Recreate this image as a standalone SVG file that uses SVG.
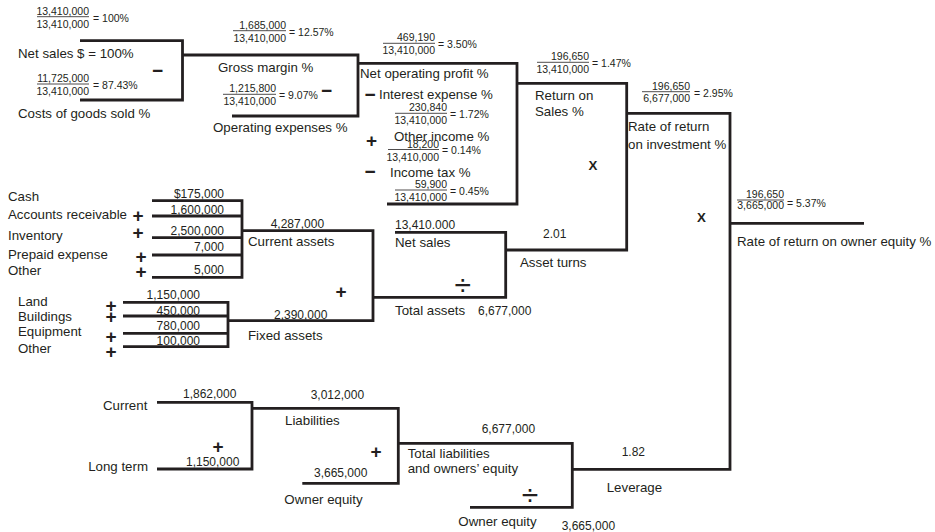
<svg xmlns="http://www.w3.org/2000/svg" width="935" height="532" viewBox="0 0 935 532">
<style>
text{font-family:"Liberation Sans",Arial,sans-serif;fill:#231f20}
.lb{font-size:13.3px}
.nm{font-size:12px}
.fr{font-size:10.5px}
.fn{font-size:10.5px;text-anchor:end}
.op{font-size:19px;font-weight:bold;text-anchor:middle}
.ox{font-size:13.3px;font-weight:bold;text-anchor:middle}
.dv{font-size:30px;text-anchor:middle}
.bar{stroke:#231f20;stroke-width:0.8;fill:none}
.cn path{stroke:#231f20;stroke-width:2.8;fill:none;stroke-linejoin:miter}
</style>
<rect width="935" height="532" fill="#ffffff"/>
<g id="connectors" class="cn">
<path d="M80 40.7 H182.5 V100 H80"/>
<path d="M182.5 55 H358 V116 H232"/>
<path d="M358 63.3 H517 V204 H387"/>
<path d="M517 83.3 H626.7 V250 H505.7"/>
<path d="M626.7 113.3 H730 V469.3 H572.3"/>
<path d="M730 223.3 H864"/>
<path d="M152 200.7 H242 V277.3 H152"/>
<path d="M152 216 H242"/>
<path d="M152 237.7 H242"/>
<path d="M152 255 H242"/>
<path d="M242 230.7 H373 V320.7 H228"/>
<path d="M123 302.3 H228 V346.7 H123"/>
<path d="M123 316 H228"/>
<path d="M123 333.3 H228"/>
<path d="M395 232.3 H505.7 V297.3 H373"/>
<path d="M157 402.3 H252 V469 H157"/>
<path d="M252 408.3 H398.3 V483.3 H302.3"/>
<path d="M398.3 443.3 H572.3 V507.3 H470"/>
</g>
<g id="operators">
<text class="op" x="157.5" y="76.5">−</text>
<text class="op" x="326.5" y="96.5">−</text>
<text class="op" x="370" y="100.8">−</text>
<text class="op" x="371.5" y="146.5">+</text>
<text class="op" x="370" y="178.2">−</text>
<text class="ox" x="593" y="169.8">X</text>
<text class="ox" x="701.5" y="221.5">X</text>
<text class="op" x="138" y="221.5">+</text>
<text class="op" x="138" y="239.2">+</text>
<text class="op" x="141" y="263.2">+</text>
<text class="op" x="141" y="278.2">+</text>
<text class="op" x="341" y="298.2">+</text>
<text class="op" x="111" y="311.5">+</text>
<text class="op" x="111" y="323.2">+</text>
<text class="op" x="111" y="343.2">+</text>
<text class="op" x="111" y="358.2">+</text>
<text class="op" x="218" y="452.5">+</text>
<text class="op" x="376" y="458.2">+</text>
<text class="dv" x="462.7" y="294.5">÷</text>
<text class="dv" x="530" y="505">÷</text>
</g>
<g id="net-sales">
<text class="fn" x="89" y="14.7">13,410,000</text>
<line class="bar" x1="37" y1="16.7" x2="89" y2="16.7"/>
<text class="fn" x="89" y="27.7">13,410,000</text>
<text class="fr" x="93" y="21.5">= 100%</text>
<text class="lb" x="18" y="58">Net sales $ = 100%</text>
</g>
<g id="cogs">
<text class="fn" x="89" y="82">11,725,000</text>
<line class="bar" x1="37" y1="84" x2="89" y2="84"/>
<text class="fn" x="89" y="95">13,410,000</text>
<text class="fr" x="93" y="88.8">= 87.43%</text>
<text class="lb" x="18" y="118">Costs of goods sold %</text>
</g>
<g id="gross-margin">
<text class="fn" x="286" y="28.7">1,685,000</text>
<line class="bar" x1="233" y1="30.7" x2="286" y2="30.7"/>
<text class="fn" x="286" y="41.7">13,410,000</text>
<text class="fr" x="289" y="35.5">= 12.57%</text>
<text class="lb" x="218" y="71.5">Gross margin %</text>
</g>
<g id="operating-expenses">
<text class="fn" x="276" y="92.3">1,215,800</text>
<line class="bar" x1="223" y1="94.3" x2="276" y2="94.3"/>
<text class="fn" x="276" y="105.3">13,410,000</text>
<text class="fr" x="279" y="99.1">= 9.07%</text>
<text class="lb" x="213" y="131.5">Operating expenses %</text>
</g>
<g id="net-operating-profit">
<text class="fn" x="435" y="41.3">469,190</text>
<line class="bar" x1="383" y1="43.3" x2="435" y2="43.3"/>
<text class="fn" x="435" y="54.3">13,410,000</text>
<text class="fr" x="438" y="48.1">= 3.50%</text>
<text class="lb" x="360" y="78">Net operating profit %</text>
</g>
<g id="interest-expense">
<text class="lb" x="379" y="99">Interest expense %</text>
<text class="fn" x="447" y="111.3">230,840</text>
<line class="bar" x1="395" y1="113.3" x2="447" y2="113.3"/>
<text class="fn" x="447" y="124.3">13,410,000</text>
<text class="fr" x="450" y="118.1">= 1.72%</text>
</g>
<g id="other-income">
<text class="lb" x="394" y="140.5">Other income %</text>
<text class="fn" x="439" y="147.7">18,200</text>
<line class="bar" x1="388" y1="149.5" x2="439" y2="149.5"/>
<text class="fn" x="439" y="160.5">13,410,000</text>
<text class="fr" x="442" y="154.3">= 0.14%</text>
</g>
<g id="income-tax">
<text class="lb" x="390" y="177">Income tax %</text>
<text class="fn" x="447" y="188">59,900</text>
<line class="bar" x1="395" y1="190" x2="447" y2="190"/>
<text class="fn" x="447" y="201">13,410,000</text>
<text class="fr" x="450" y="194.8">= 0.45%</text>
</g>
<g id="return-on-sales">
<text class="fn" x="589" y="60.3">196,650</text>
<line class="bar" x1="537" y1="62.3" x2="589" y2="62.3"/>
<text class="fn" x="589" y="73.3">13,410,000</text>
<text class="fr" x="592" y="67.1">= 1.47%</text>
<text class="lb" x="535" y="99.5">Return on</text>
<text class="lb" x="535" y="116">Sales %</text>
</g>
<g id="return-on-investment">
<text class="fn" x="690" y="89.7">196,650</text>
<line class="bar" x1="642" y1="91.7" x2="690" y2="91.7"/>
<text class="fn" x="690" y="102.3">6,677,000</text>
<text class="fr" x="694" y="96.5">= 2.95%</text>
<text class="lb" x="628" y="131">Rate of return</text>
<text class="lb" x="628" y="148.5">on investment %</text>
</g>
<g id="return-on-equity">
<text class="fn" x="784" y="198">196,650</text>
<line class="bar" x1="737" y1="200" x2="784" y2="200"/>
<text class="fn" x="784" y="209">3,665,000</text>
<text class="fr" x="787" y="207">= 5.37%</text>
<text class="lb" x="737" y="246">Rate of return on owner equity %</text>
</g>
<g id="cash">
<text class="lb" x="8" y="201">Cash</text>
<text class="nm" x="224" y="197.5" text-anchor="end">$175,000</text>
</g>
<g id="accounts-receivable">
<text class="lb" x="8" y="219">Accounts receivable</text>
<text class="nm" x="224" y="214" text-anchor="end">1,600,000</text>
</g>
<g id="inventory">
<text class="lb" x="8" y="239.5">Inventory</text>
<text class="nm" x="224" y="235" text-anchor="end">2,500,000</text>
</g>
<g id="prepaid-expense">
<text class="lb" x="8" y="258.5">Prepaid expense</text>
<text class="nm" x="224" y="251" text-anchor="end">7,000</text>
</g>
<g id="other-current">
<text class="lb" x="8" y="274.5">Other</text>
<text class="nm" x="224" y="273.5" text-anchor="end">5,000</text>
</g>
<g id="current-assets">
<text class="nm" x="270.7" y="227.5">4,287,000</text>
<text class="lb" x="248" y="245.5">Current assets</text>
</g>
<g id="land">
<text class="lb" x="18" y="306">Land</text>
<text class="nm" x="200" y="299" text-anchor="end">1,150,000</text>
</g>
<g id="buildings">
<text class="lb" x="18" y="321">Buildings</text>
<text class="nm" x="200" y="315" text-anchor="end">450,000</text>
</g>
<g id="equipment">
<text class="lb" x="18" y="336">Equipment</text>
<text class="nm" x="200" y="330" text-anchor="end">780,000</text>
</g>
<g id="other-fixed">
<text class="lb" x="18" y="352.5">Other</text>
<text class="nm" x="200" y="345" text-anchor="end">100,000</text>
</g>
<g id="fixed-assets">
<text class="nm" x="274" y="319">2,390,000</text>
<text class="lb" x="248" y="339.5">Fixed assets</text>
</g>
<g id="net-sales-total">
<text class="nm" x="395" y="229">13,410.000</text>
<text class="lb" x="395" y="247">Net sales</text>
</g>
<g id="total-assets">
<text class="lb" x="395" y="314.5">Total assets</text>
<text class="nm" x="478" y="314.5">6,677,000</text>
</g>
<g id="asset-turns">
<text class="nm" x="543" y="237.5">2.01</text>
<text class="lb" x="520" y="267">Asset turns</text>
</g>
<g id="current-liabilities">
<text class="lb" x="103" y="409.5">Current</text>
<text class="nm" x="183" y="398">1,862,000</text>
</g>
<g id="long-term">
<text class="lb" x="148" y="471" text-anchor="end">Long term</text>
<text class="nm" x="186" y="466">1,150,000</text>
</g>
<g id="liabilities">
<text class="nm" x="310.7" y="399">3,012,000</text>
<text class="lb" x="285" y="424.5">Liabilities</text>
</g>
<g id="owner-equity">
<text class="nm" x="314" y="477">3,665,000</text>
<text class="lb" x="284.3" y="504">Owner equity</text>
</g>
<g id="total-liabilities-equity">
<text class="nm" x="481.7" y="432.5">6,677,000</text>
<text class="lb" x="407.7" y="458">Total liabilities</text>
<text class="lb" x="407.7" y="473">and owners’ equity</text>
</g>
<g id="owner-equity-divisor">
<text class="lb" x="458.3" y="526">Owner equity</text>
<text class="nm" x="561.7" y="529.5">3,665,000</text>
</g>
<g id="leverage">
<text class="nm" x="621.7" y="456">1.82</text>
<text class="lb" x="606.7" y="492">Leverage</text>
</g>
</svg>
